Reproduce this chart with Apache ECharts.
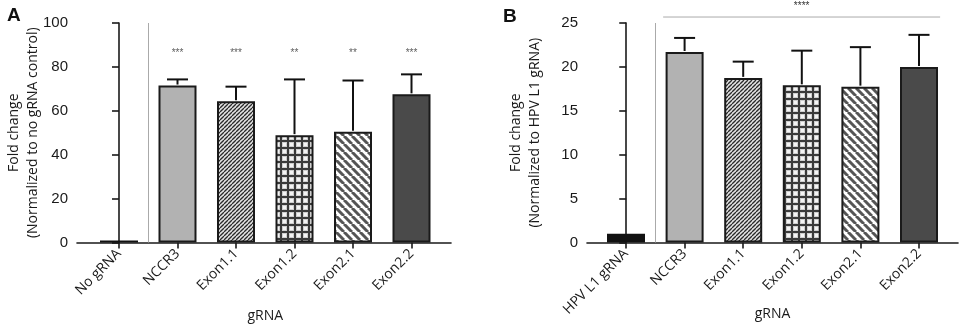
<!DOCTYPE html>
<html>
<head>
<meta charset="utf-8">
<script src="https://cdn.jsdelivr.net/npm/echarts@6/dist/echarts.min.js"></script>
<style>
  html, body { margin: 0; padding: 0; background: #fff; }
  #chart { width: 960px; height: 324px; }
</style>
</head>
<body>
<div id="chart"></div>
<script>
// panel A
const catsA = ['No gRNA', 'NCCR3', 'Exon1.1', 'Exon1.2', 'Exon2.1', 'Exon2.2']
const meanA = [0.9, 71.5, 64.3, 48.9, 50.5, 67.5]
const sdA = [0, 2.8, 6.7, 25.4, 23.3, 9.1]
const starsA = ['', '***', '***', '**', '**', '***']
const ticksA = [0, 20, 40, 60, 80, 100]

// panel B
const catsB = ['HPV L1 gRNA', 'NCCR3', 'Exon1.1', 'Exon1.2', 'Exon2.1', 'Exon2.2']
const meanB = [1, 21.7, 18.75, 17.9, 17.75, 20.0]
const sdB = [0, 1.6, 1.85, 3.95, 4.5, 3.65]
const ticksB = [0, 5, 10, 15, 20, 25]
const sigB = '****'

const numFont = 'Liberation Sans'
const txtFont = 'Open Sans'
const ink = '#1a1a1a'

// fill patterns for the bars
const stripes = (size, lw, dir, fg, bg) => {
  const c = document.createElement('canvas')
  c.width = c.height = size
  const g = c.getContext('2d')
  g.fillStyle = bg
  g.fillRect(0, 0, size, size)
  g.strokeStyle = fg
  g.lineWidth = lw
  for (const o of [-size, 0, size]) {
    g.beginPath()
    if (dir > 0) { g.moveTo(o, size); g.lineTo(o + size, 0) }
    else { g.moveTo(o, 0); g.lineTo(o + size, size) }
    g.stroke()
  }
  return { image: c, repeat: 'repeat' }
}
const checks = (size, lw, fg, bg) => {
  const c = document.createElement('canvas')
  c.width = c.height = size
  const g = c.getContext('2d')
  g.fillStyle = bg
  g.fillRect(0, 0, size, size)
  g.fillStyle = '#f4f4f4'
  g.fillRect(lw + 1, lw + 1, size - lw - 2, size - lw - 2)
  g.fillStyle = fg
  g.fillRect(0, 0, size, lw)
  g.fillRect(0, 0, lw, size)
  return { image: c, repeat: 'repeat' }
}

const fills = [
  '#111111',
  '#b2b2b2',
  stripes(4, 1.3, 1, '#2a2a2a', '#e4e4e4'),
  checks(7, 2, '#3a3a3a', '#cfcfcf'),
  stripes(8, 3, -1, '#555', '#ffffff'),
  '#4a4a4a'
]

const grids = []
const xAxes = []
const yAxes = []
const series = []
const titles = []

// one panel = wide grid (y axis + axis line) and an inner category grid (bars)
const buildPanel = (p) => {
  const g0 = grids.length
  const g1 = g0 + 1
  grids.push({ left: p.axisX, width: p.axisEnd - p.axisX, top: 23, height: 219.5, outerBoundsMode: 'none', containLabel: false })
  grids.push({ left: p.catLeft, width: p.catWidth, top: 23, height: 219.5, outerBoundsMode: 'none', containLabel: false })

  xAxes.push({
    gridIndex: g0, type: 'value', min: p.xMin, max: p.xMax,
    axisLine: { show: true, lineStyle: { color: ink, width: 1.6 } },
    axisTick: { show: false }, axisLabel: { show: false }, splitLine: { show: false }
  })
  xAxes.push({
    gridIndex: g1, type: 'category', data: p.cats,
    name: 'gRNA', nameLocation: 'middle', nameGap: p.xNameGap, nameMoveOverlap: false,
    nameTextStyle: { fontFamily: txtFont, fontSize: 14, color: ink },
    axisLine: { show: false },
    axisTick: { show: true, alignWithLabel: true, length: 6, lineStyle: { color: ink, width: 1.6 } },
    axisLabel: { rotate: 45, margin: 9, fontFamily: txtFont, fontSize: 14, color: ink, interval: 0 }
  })
  yAxes.push({
    gridIndex: g0, type: 'value', min: 0, max: p.yMax, interval: p.yStep,
    name: p.yName, nameLocation: 'middle', nameGap: p.nameGap, nameRotate: 90, nameMoveOverlap: false,
    nameTextStyle: { fontFamily: txtFont, fontSize: 14, color: ink, lineHeight: 19, align: 'center' },
    axisLine: { show: true, lineStyle: { color: ink, width: 1.6 } },
    axisTick: { show: true, length: 7, lineStyle: { color: ink, width: 1.6 } },
    axisLabel: { margin: p.labelMargin, fontFamily: numFont, fontSize: 15, color: ink },
    splitLine: { show: false }
  })
  yAxes.push({
    gridIndex: g1, type: 'value', min: 0, max: p.yMax, show: false
  })

  const xa0 = xAxes.length - 2
  const ya0 = yAxes.length - 2

  series.push({
    type: 'bar',
    xAxisIndex: xa0 + 1, yAxisIndex: ya0 + 1,
    barWidth: 38,
    data: p.mean.map((v, i) => ({
      value: v,
      itemStyle: { color: fills[i], borderColor: '#1a1a1a', borderWidth: i === 0 ? 0 : 2 }
    })),
    silent: true
  })

  // error bars (upper only)
  series.push({
    type: 'custom',
    xAxisIndex: xa0 + 1, yAxisIndex: ya0 + 1,
    data: p.mean.map((v, i) => [i, v, v + p.sd[i]]),
    renderItem: (params, api) => {
      if (api.value(2) === api.value(1)) return null
      const base = api.coord([api.value(0), api.value(1)])
      const top = api.coord([api.value(0), api.value(2)])
      const style = { stroke: '#111', lineWidth: 2 }
      return {
        type: 'group',
        children: [
          { type: 'line', shape: { x1: base[0], y1: base[1] - 1, x2: top[0], y2: top[1] }, style },
          { type: 'line', shape: { x1: top[0] - 10.5, y1: top[1], x2: top[0] + 10.5, y2: top[1] }, style }
        ]
      }
    },
    z: 3,
    silent: true
  })

  // separator between control and the test guides
  series.push({
    type: 'line',
    xAxisIndex: xa0, yAxisIndex: ya0,
    data: [],
    silent: true,
    markLine: {
      symbol: 'none', silent: true, animation: false,
      lineStyle: { color: '#aaaaaa', width: 1, type: 'solid' },
      label: { show: false },
      data: [{ xAxis: 0.5 }]
    }
  })

  // significance bar above the guides (sits above the axis max, custom is not clipped)
  if (p.sig) {
    series.push({
      type: 'custom',
      xAxisIndex: xa0, yAxisIndex: ya0,
      data: [[p.sig.from, p.sig.to, p.sig.y]],
      renderItem: (params, api) => {
        const a = api.coord([api.value(0), api.value(2)])
        const b = api.coord([api.value(1), api.value(2)])
        return {
          type: 'group',
          children: [
            { type: 'line', shape: { x1: a[0], y1: a[1], x2: b[0], y2: b[1] }, style: { stroke: '#aaaaaa', lineWidth: 1 } },
            {
              type: 'text',
              style: {
                x: (a[0] + b[0]) / 2, y: a[1] - 11, text: p.sig.text,
                align: 'center', verticalAlign: 'middle',
                font: '10px "Liberation Sans"', fill: '#333'
              }
            }
          ]
        }
      },
      silent: true
    })
  }

  if (p.stars) {
    series.push({
      type: 'scatter',
      xAxisIndex: xa0 + 1, yAxisIndex: ya0 + 1,
      symbolSize: 0,
      data: p.stars.map((s, i) => [i, p.starY, s]),
      label: {
        show: true, position: 'inside', formatter: (d) => d.value[2],
        fontFamily: numFont, fontSize: 10, color: '#333'
      },
      silent: true
    })
  }

  titles.push({
    text: p.letter, left: p.letterX, top: p.letterY,
    textStyle: { fontFamily: numFont, fontWeight: 'bold', fontSize: 19, color: '#111' }
  })
}

buildPanel({
  letter: 'A', letterX: 2, letterY: 1,
  cats: catsA, mean: meanA, sd: sdA, stars: starsA, starY: 86,
  axisX: 77, axisEnd: 451, xMin: -0.718, xMax: 5.675,
  catLeft: 89.75, catWidth: 351,
  yMax: 100, yStep: 20, labelMargin: 9, nameGap: 34, xNameGap: 67,
  yName: 'Fold change\n(Normalized to no gRNA control)'
})
buildPanel({
  letter: 'B', letterX: 498, letterY: 2,
  cats: catsB, mean: meanB, sd: sdB,
  axisX: 587, axisEnd: 958, xMin: -0.67, xMax: 5.665,
  catLeft: 596.7, catWidth: 351.6,
  yMax: 25, yStep: 5, labelMargin: 9, nameGap: 42, xNameGap: 65,
  yName: 'Fold change\n(Normalized to HPV L1 gRNA)',
  sig: { from: 0.63, to: 5.36, y: 25.68, text: sigB }
})

const chart = echarts.init(document.getElementById('chart'))
chart.setOption({
  animation: false,
  backgroundColor: '#fff',
  title: titles,
  grid: grids,
  xAxis: xAxes,
  yAxis: yAxes,
  series: series
})
</script>
</body>
</html>
